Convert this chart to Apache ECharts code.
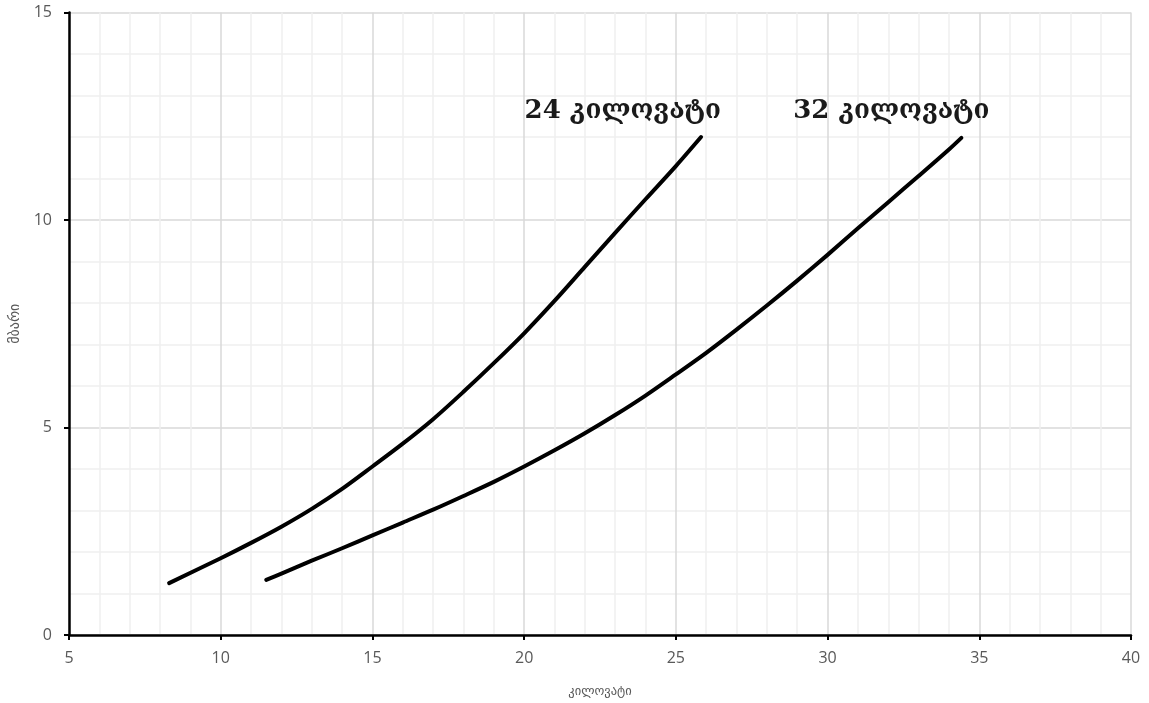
<!DOCTYPE html>
<html>
<head>
<meta charset="utf-8">
<script src="https://cdn.jsdelivr.net/npm/echarts@6/dist/echarts.min.js"></script>
<style>html,body{margin:0;padding:0;background:#fff;}#c{width:1149px;height:703px;}</style>
</head>
<body>
<div id="c"></div>
<script>
// Data
var x24 = [8.3, 10, 11, 12, 13, 14, 15, 16, 17, 18, 19, 20, 21, 22, 23, 24, 25, 25.83];
var y24 = [1.25, 1.85, 2.22, 2.61, 3.04, 3.52, 4.06, 4.61, 5.20, 5.86, 6.55, 7.27, 8.05, 8.87, 9.69, 10.50, 11.30, 12.0];
var x32 = [11.5, 12, 13, 14, 15, 16, 17, 18, 19, 20, 21, 22, 23, 24, 25, 26, 27, 28, 29, 30, 31, 32, 33, 34, 34.41];
var y32 = [1.33, 1.48, 1.79, 2.09, 2.40, 2.71, 3.02, 3.35, 3.69, 4.06, 4.45, 4.86, 5.30, 5.77, 6.28, 6.80, 7.36, 7.94, 8.54, 9.16, 9.80, 10.43, 11.06, 11.70, 11.98];
var seriesNames = ['24 კილოვატი', '32 კილოვატი'];
var labelX = [23.25, 32.1];
var labelY = [12.62, 12.62];
var xName = 'კილოვატი';
var yName = 'მბარი';

function pairs(xs, ys) { return xs.map(function (x, i) { return [x, ys[i]]; }); }

var chart = echarts.init(document.getElementById('c'), null, { renderer: 'canvas' });
var tickFont = { color: '#595959', fontSize: 16, fontFamily: 'Open Sans' };

function mkSeries(idx, xs, ys) {
  return {
    name: seriesNames[idx],
    type: 'line',
    data: pairs(xs, ys),
    smooth: 0.3,
    showSymbol: false,
    symbol: 'none',
    lineStyle: { color: '#000', width: 4, cap: 'round', join: 'round' },
    markPoint: {
      symbol: 'rect',
      symbolSize: 1,
      itemStyle: { color: 'rgba(0,0,0,0)' },
      data: [{ coord: [labelX[idx], labelY[idx]], value: seriesNames[idx] }],
      label: {
        show: true, formatter: seriesNames[idx], position: 'inside',
        fontFamily: 'DejaVu Serif', fontSize: 26, color: '#1a1a1a', fontWeight: 'bold'
      }
    }
  };
}

chart.setOption({
  animation: false,
  grid: { left: 69, right: 18, top: 12.5, bottom: 68, containLabel: false, outerBoundsMode: 'none' },
  xAxis: {
    type: 'value', min: 5, max: 40, interval: 5,
    name: xName, nameLocation: 'middle', nameGap: 50,
    nameTextStyle: { color: '#595959', fontSize: 12.5, fontFamily: 'DejaVu Sans' },
    axisLine: { show: true, onZero: false, lineStyle: { color: '#000', width: 2.5 } },
    axisTick: { show: true, inside: false, length: 5, lineStyle: { color: '#000', width: 2 } },
    axisLabel: Object.assign({ margin: 15 }, tickFont),
    splitLine: { show: true, lineStyle: { color: '#d9d9d9', width: 1.5 } },
    minorTick: { show: false, splitNumber: 5 },
    minorSplitLine: { show: true, lineStyle: { color: '#f0f0f0', width: 1.5 } }
  },
  yAxis: {
    type: 'value', min: 0, max: 15, interval: 5,
    name: yName, nameLocation: 'middle', nameGap: 45, nameRotate: 90,
    nameTextStyle: { color: '#595959', fontSize: 14, fontFamily: 'DejaVu Sans' },
    axisLine: { show: true, onZero: false, lineStyle: { color: '#000', width: 2.5 } },
    axisTick: { show: true, inside: false, length: 5, lineStyle: { color: '#000', width: 2 } },
    axisLabel: Object.assign({ margin: 17 }, tickFont),
    splitLine: { show: true, lineStyle: { color: '#d9d9d9', width: 1.5 } },
    minorTick: { show: false, splitNumber: 5 },
    minorSplitLine: { show: true, lineStyle: { color: '#f0f0f0', width: 1.5 } }
  },
  series: [mkSeries(0, x24, y24), mkSeries(1, x32, y32)]
});
</script>
</body>
</html>
